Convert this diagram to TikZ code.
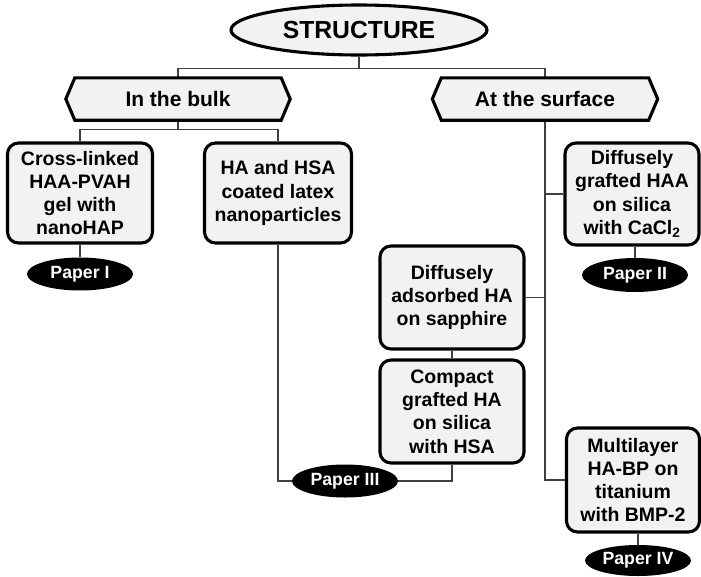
\documentclass[tikz,border=0pt]{standalone}
\usepackage{fontspec}
\setmainfont{Liberation Sans}
\usetikzlibrary{shapes.geometric,backgrounds}
\definecolor{boxfill}{HTML}{F2F2F2}
\definecolor{linegray}{HTML}{404040}
\begin{document}
\begin{tikzpicture}[x=1pt,y=-1pt,
  box/.style={draw=black, line width=3.1pt, fill=boxfill, rounded corners=11pt, align=center, inner sep=0pt, font=\fontsize{19.5}{23.3}\selectfont\bfseries},
  paper/.style={ellipse, fill=black, text=white, inner sep=0pt, minimum width=106pt, minimum height=33pt, font=\fontsize{17.7}{20}\selectfont\bfseries},
  hexlabel/.style={inner sep=0pt, minimum height=42pt, font=\fontsize{21}{24}\selectfont\bfseries},
  hexborder/.style={draw=black, line width=3.1pt, fill=boxfill, line join=miter},
  conn/.style={draw=linegray, line width=1.3pt}
]
\useasboundingbox (0,0) rectangle (701,576);

\node[ellipse, draw=black, line width=3.1pt, fill=boxfill, inner sep=0pt, minimum width=256pt, minimum height=50pt, font=\fontsize{24.7}{28}\selectfont\bfseries] (structure) at (359,30) {STRUCTURE};

\node[hexlabel, minimum width=224pt] (bulk) at (178,99) {In the bulk};
\node[hexlabel, minimum width=225pt] (surface) at (545,99) {At the surface};

\node[box, minimum width=145pt, minimum height=100pt] (cross) at (80,193) {Cross-linked\\HAA-PVAH\\gel with\\nanoHAP};
\node[box, minimum width=147pt, minimum height=100pt] (hsa) at (278,193) {HA and HSA\\coated latex\\nanoparticles};
\node[box, minimum width=134pt, minimum height=102pt] (graft) at (632,194) {Diffusely\\grafted HAA\\on silica\\with CaCl\textsubscript{2}};
\node[box, minimum width=144pt, minimum height=103pt] (adsorb) at (452,297.5) {Diffusely\\adsorbed HA\\on sapphire};
\node[box, minimum width=144pt, minimum height=103pt] (compact) at (452,411.5) {Compact\\grafted HA\\on silica\\with HSA};
\node[box, minimum width=133pt, minimum height=104pt] (multi) at (633,480) {Multilayer\\HA-BP on\\titanium\\with BMP-2};

\node[paper] (paper1) at (80,274) {Paper I};
\node[paper, minimum height=34pt] (paper2) at (635,275) {Paper II};
\node[paper] (paper3) at (345,481) {Paper III};
\node[paper, minimum height=31pt] (paper4) at (638,560.5) {Paper IV};

\begin{scope}[on background layer]
\draw[conn] (structure.south) -- ++(0,12) -| (bulk.north);
\draw[conn] (structure.south) -- ++(0,12) -| (surface.north);
\draw[conn] (bulk.south) -- ++(0,9) -| (cross.north);
\draw[conn] (bulk.south) -- ++(0,9) -| (hsa.north);
\draw[conn] (cross.south) -- (paper1.north);
\draw[conn] (hsa.south) |- (paper3.west);
\draw[conn] (compact.south) |- (paper3.east);
\draw[conn] (adsorb.south) -- (compact.north);
\draw[conn] (surface.south) |- (multi.west);
\draw[conn] (graft.west) -- (graft.west -| surface.south);
\draw[conn] (adsorb.east) -- (adsorb.east -| surface.south);
\draw[conn] (paper2.north) -- (paper2.north |- graft.south);
\draw[conn] (paper4.north) -- (paper4.north |- multi.south);
\foreach \h in {bulk,surface}{
  \draw[hexborder] ([xshift=9pt]\h.north west) -- ([xshift=-9pt]\h.north east) -- (\h.east) -- ([xshift=-9pt]\h.south east) -- ([xshift=9pt]\h.south west) -- (\h.west) -- cycle;
}
\end{scope}
\end{tikzpicture}
\end{document}
